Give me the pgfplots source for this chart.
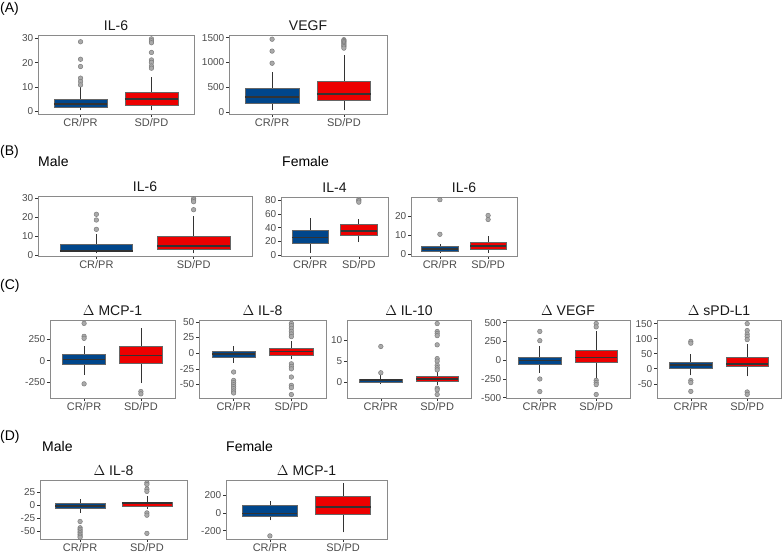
\documentclass[border=0pt]{standalone}
\usepackage{fontspec}
\setmainfont{Liberation Sans}
\usepackage{pgfplots}
\pgfplotsset{compat=1.18}
\definecolor{myblue}{HTML}{00468B}
\definecolor{myred}{HTML}{ED0000}
\definecolor{boxedge}{HTML}{666666}
\definecolor{medcol}{HTML}{333333}
\definecolor{outfill}{HTML}{AAAAAA}
\definecolor{outdraw}{HTML}{777777}
\definecolor{framegrey}{HTML}{8A8A8A}
\definecolor{tickcol}{HTML}{333333}
\definecolor{labcol}{HTML}{4D4D4D}
\pgfplotsset{
  panel/.style n args={4}{at={(#1bp,-#2bp)}, anchor=north west, width=#3bp, height=#4bp},
  bp/.style={scale only axis, xmin=0.4, xmax=2.6, xtick={1,2}, xticklabels={CR/PR,SD/PD},
    xtick pos=left, ytick pos=left, clip=false,
    axis line style={draw=framegrey, line width=0.9bp},
    tick style={draw=tickcol, line width=0.6bp}, tick align=outside, major tick length=3bp,
    xticklabel style={font=\fontsize{11bp}{12bp}\selectfont, text=labcol, inner sep=1.3bp},
    yticklabel style={font=\fontsize{10bp}{12bp}\selectfont, text=labcol, inner sep=1.6bp},
    title style={font=\fontsize{14bp}{16bp}\selectfont, anchor=base, yshift=-1.2bp, inner sep=0pt, text=black!90}},
}
% #1 colour, #2 left, #3 centre, #4 right, #5 lower whisker, #6 lower quartile, #7 median, #8 upper quartile, #9 upper whisker
\newcommand{\bxx}[9]{%
  \addplot[draw=medcol, line width=0.8bp, mark=none] coordinates {(#3,#5) (#3,#6)};
  \addplot[draw=medcol, line width=0.8bp, mark=none] coordinates {(#3,#8) (#3,#9)};
  \addplot[draw=boxedge, fill=#1, line width=0.7bp, mark=none] coordinates {(#2,#6) (#4,#6) (#4,#8) (#2,#8)} -- cycle;
  \addplot[draw=medcol, line width=1.8bp, mark=none] coordinates {(#2,#7) (#4,#7)};
}
\newcommand{\bxa}[6]{\bxx{#1}{0.625}{1}{1.375}{#2}{#3}{#4}{#5}{#6}}
\newcommand{\bxb}[6]{\bxx{#1}{1.625}{2}{2.375}{#2}{#3}{#4}{#5}{#6}}
\newcommand{\outl}[1]{%
  \addplot[only marks, mark=*, mark size=2.3bp,
    mark options={fill=outfill, draw=outdraw, line width=0.45bp}] coordinates {#1};}
\begin{document}
\begin{tikzpicture}
\fill[white] (0,0) rectangle (784bp,-554bp);
\useasboundingbox (0,0) rectangle (784bp,-554bp);
\tikzset{lab/.style={anchor=base west, inner sep=0pt, font=\fontsize{14bp}{16bp}\selectfont}}
\node[lab] at (0bp,-12.5bp) {(A)};
\node[lab] at (0bp,-155bp) {(B)};
\node[lab] at (38bp,-166.7bp) {Male};
\node[lab] at (282bp,-166.7bp) {Female};
\node[lab] at (0bp,-289bp) {(C)};
\node[lab] at (0bp,-440bp) {(D)};
\node[lab] at (42bp,-451bp) {Male};
\node[lab] at (226bp,-451bp) {Female};

% ---------- (A) ----------
\begin{axis}[bp, panel={38}{35}{156}{79}, title={IL-6}, ymin=-1.2, ymax=31.4,
  ytick={0,10,20,30}, yticklabels={0,10,20,30}]
\bxa{myblue}{0.3}{1.6}{3.0}{5.0}{10.0}
\bxb{myred}{0.3}{2.5}{4.9}{7.7}{14.0}
\outl{(1,28.6) (1,21.4) (1,18.4) (1,13.6) (1,12.2) (1,10.8)}
\outl{(2,29.8) (2,29.0) (2,28.2) (2,24.2) (2,21.1) (2,20.1) (2,18.6) (2,17.7)}
\end{axis}
\begin{axis}[bp, panel={229}{35}{158}{79}, title={VEGF}, ymin=-40, ymax=1555,
  ytick={0,500,1000,1500}, yticklabels={0,500,1000,1500}]
\bxa{myblue}{45}{172}{305}{480}{800}
\bxb{myred}{35}{230}{368}{615}{1150}
\outl{(1,1470) (1,1230) (1,985)}
\outl{(2,1460) (2,1440) (2,1420) (2,1395) (2,1370) (2,1345) (2,1320) (2,1290)}
\end{axis}

% ---------- (B) ----------
\begin{axis}[bp, panel={38}{196}{214}{60}, title={IL-6}, ymin=-0.4, ymax=31.1,
  ytick={0,10,20,30}, yticklabels={0,10,20,30}]
\bxa{myblue}{1.0}{1.8}{2.4}{5.9}{11.3}
\bxb{myred}{1.0}{3.0}{4.9}{10.1}{20.6}
\outl{(1,21.5) (1,18.5) (1,13.6)}
\outl{(2,29.7) (2,29.0) (2,28.1) (2,23.9)}
\end{axis}
\begin{axis}[bp, panel={281}{197}{107}{59}, title={IL-4}, ymin=-1.2, ymax=84.5,
  ytick={0,20,40,60,80}, yticklabels={0,20,40,60,80}]
\bxa{myblue}{3.3}{17.6}{25.7}{35.7}{54.3}
\bxb{myred}{19}{29}{35.7}{45.2}{51.9}
\outl{(2,81) (2,79) (2,77)}
\end{axis}
\begin{axis}[bp, panel={411}{197}{106}{59}, title={IL-6}, ymin=-0.9, ymax=29.8,
  ytick={0,10,20}, yticklabels={0,10,20}]
\bxa{myblue}{0.5}{1.5}{2.6}{4.1}{5.5}
\bxb{myred}{0.7}{2.6}{4.1}{6.2}{9.6}
\outl{(1,28.4) (1,10.4)}
\outl{(2,20.2) (2,18.1)}
\end{axis}

% ---------- (C) ----------
\begin{axis}[bp, panel={50}{320}{125}{78}, title={$\Delta$ MCP-1}, ymin=-433, ymax=470,
  ytick={-250,0,250}, yticklabels={-250,0,250}]
\bxa{myblue}{-165}{-42}{12}{77}{173}
\bxb{myred}{-262}{-27}{58}{165}{381}
\outl{(1,431) (1,281) (1,258) (1,-269)}
\outl{(2,-358) (2,-385)}
\end{axis}
\begin{axis}[bp, panel={199}{320}{127}{78}, title={$\Delta$ IL-8}, ymin=-71.5, ymax=53,
  ytick={-50,-25,0,25,50}, yticklabels={-50,-25,0,25,50}]
\bxa{myblue}{-15.3}{-6.3}{-1.6}{3.2}{12.2}
\bxb{myred}{-10}{-3.7}{2.6}{7.9}{19}
\outl{(1,-30) (1,-43.4) (1,-47) (1,-50.3) (1,-53.4) (1,-56.6) (1,-60.3) (1,-63.5)}
\outl{(2,47.6) (2,43.9) (2,39.7) (2,34.9) (2,30.7) (2,26.5) (2,-16.9) (2,-21.2) (2,-24.9) (2,-38) (2,-51.3) (2,-55) (2,-66)}
\end{axis}
\begin{axis}[bp, panel={347}{320}{124}{78}, title={$\Delta$ IL-10}, ymin=-3.85, ymax=14.85,
  ytick={0,5,10}, yticklabels={0,5,10}]
\bxa{myblue}{-0.5}{-0.1}{0.4}{0.7}{1.6}
\bxb{myred}{-0.7}{0.16}{0.8}{1.35}{2.5}
\outl{(1,8.5) (1,2.2)}
\outl{(2,14) (2,12.1) (2,11.6) (2,11.1) (2,8.9) (2,5.6) (2,5.0) (2,4.0) (2,3.4) (2,2.9) (2,-1.5) (2,-1.9) (2,-3.0)}
\end{axis}
\begin{axis}[bp, panel={506}{320}{124}{78}, title={$\Delta$ VEGF}, ymin=-503, ymax=534,
  ytick={-500,-250,0,250,500}, yticklabels={-500,-250,0,250,500}]
\bxa{myblue}{-167}{-61}{-4}{39}{193}
\bxb{myred}{-246}{-31}{35}{136}{386}
\outl{(1,382) (1,259) (1,-250) (1,-417)}
\outl{(2,487) (2,443) (2,-268) (2,-298) (2,-325) (2,-456)}
\end{axis}
\begin{axis}[bp, panel={657}{320}{124}{78}, title={$\Delta$ sPD-L1}, ymin=-97, ymax=162,
  ytick={-50,0,50,100,150}, yticklabels={-50,0,50,100,150}]
\bxa{myblue}{-22}{0}{12}{22}{50}
\bxb{myred}{-25}{8}{17}{39}{81}
\outl{(1,91) (1,85) (1,-39) (1,-46) (1,-75)}
\outl{(2,150) (2,127) (2,115) (2,107) (2,97) (2,-77) (2,-85)}
\end{axis}

% ---------- (D) ----------
\begin{axis}[bp, panel={40}{480}{147}{59}, title={$\Delta$ IL-8}, ymin=-66, ymax=49.5,
  ytick={-50,-25,0,25}, yticklabels={-50,-25,0,25}]
\bxa{myblue}{-14.9}{-6.5}{-1.3}{3.2}{12.3}
\bxb{myred}{-6.5}{-1.9}{3.9}{6.5}{17.5}
\outl{(1,-31.7) (1,-44) (1,-47.2) (1,-50.4) (1,-53.7) (1,-56.9) (1,-60.1) (1,-62.7)}
\outl{(2,44) (2,40.7) (2,31.7) (2,27.2) (2,-14.9) (2,-19.4) (2,-55)}
\end{axis}
\begin{axis}[bp, panel={226}{480}{161}{59}, title={$\Delta$ MCP-1}, ymin=-293, ymax=374,
  ytick={-200,0,200}, yticklabels={-200,0,200}]
\bxa{myblue}{-82}{-41}{-4}{82}{135}
\bxb{myred}{-217}{-19}{67}{187}{344}
\outl{(1,-258)}
\end{axis}
\end{tikzpicture}
\end{document}
